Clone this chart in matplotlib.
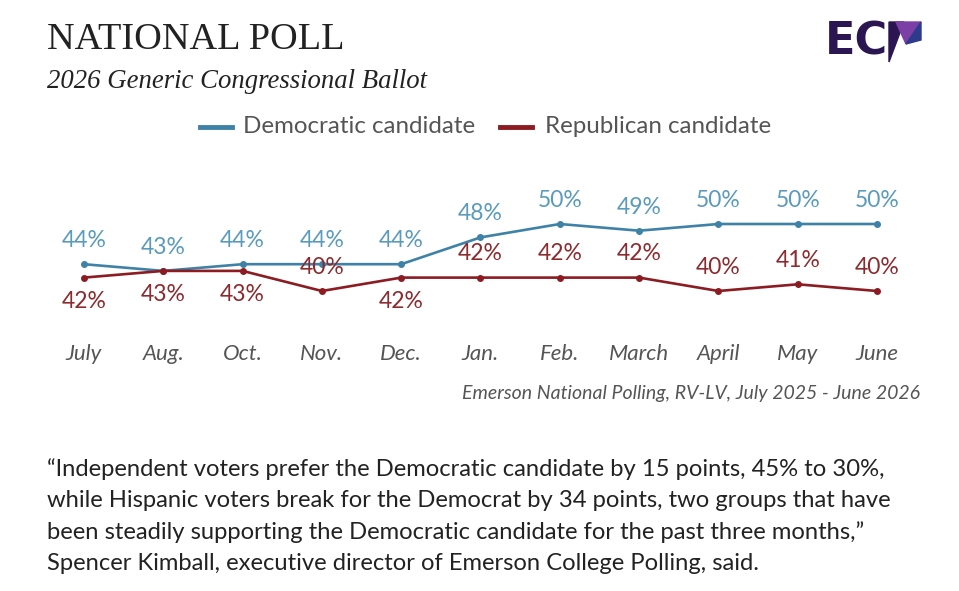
import matplotlib.pyplot as plt
from matplotlib.patches import Polygon

months = ['July', 'Aug.', 'Oct.', 'Nov.', 'Dec.', 'Jan.', 'Feb.', 'March', 'April', 'May', 'June']
dem = [44, 43, 44, 44, 44, 48, 50, 49, 50, 50, 50]
rep = [42, 43, 43, 40, 42, 42, 42, 42, 40, 41, 40]
rep_below = ['July', 'Aug.', 'Oct.', 'Dec.']

title = 'NATIONAL POLL'
subtitle = '2026 Generic Congressional Ballot'
source = 'Emerson National Polling, RV-LV, July 2025 - June 2026'
quote = ('\u201cIndependent voters prefer the Democratic candidate by 15 points, 45% to 30%,\n'
         'while Hispanic voters break for the Democrat by 34 points, two groups that have\n'
         'been steadily supporting the Democratic candidate for the past three months,\u201d\n'
         'Spencer Kimball, executive director of Emerson College Polling, said.')

dem_line = '#3f82a8'
dem_text = '#5a9bbd'
rep_line = '#8c1c22'
rep_text = '#8c2a2e'
grey = '#555555'

plt.rcParams['font.family'] = ['Lato', 'DejaVu Sans']

fig = plt.figure(figsize=(9.59, 5.91), dpi=100)
fig.patch.set_facecolor('white')

# plot area: x from -0.5 to 10.5, y from 36 to 54
ax = fig.add_axes([44.35 / 959, 1 - 317.8 / 591, (916.65 - 44.35) / 959, (317.8 - 197.2) / 591])
ax.set_xlim(-0.5, 10.5)
ax.set_ylim(36, 54)
x = list(range(len(months)))

ax.plot(x, dem, color=dem_line, lw=1.9, marker='o', ms=4, zorder=3)
ax.plot(x, rep, color=rep_line, lw=1.9, marker='o', ms=4, zorder=3)

for i, v in enumerate(dem):
    ax.annotate(f'{v}%', (i, v), xytext=(0, 17), textcoords='offset points',
                ha='center', va='center', fontsize=16.5, color=dem_text)
for i, v in enumerate(rep):
    off = 17 if months[i] not in rep_below else -17
    ax.annotate(f'{v}%', (i, v), xytext=(0, off), textcoords='offset points',
                ha='center', va='center', fontsize=16.5, color=rep_text)

ax.set_xticks(x)
ax.set_xticklabels(months, style='italic', fontsize=16, color=grey)
ax.tick_params(axis='x', length=0, pad=19)
ax.set_yticks([])
for s in ax.spines.values():
    s.set_visible(False)
ax.patch.set_alpha(0)

# legend
fig.add_artist(plt.Line2D([200 / 959, 232 / 959], [1 - 127 / 591] * 2, color=dem_line, lw=3.5))
fig.text(243 / 959, 1 - 127 / 591, 'Democratic candidate', fontsize=17.4, color=grey, va='center')
fig.add_artist(plt.Line2D([500 / 959, 532 / 959], [1 - 127 / 591] * 2, color=rep_line, lw=3.5))
fig.text(545 / 959, 1 - 127 / 591, 'Republican candidate', fontsize=17.4, color=grey, va='center')

# titles
fig.text(47 / 959, 1 - 40 / 591, title, family='Liberation Serif', fontsize=27.5, color='#222222', va='center')
fig.text(47 / 959, 1 - 82 / 591, subtitle, family='Liberation Serif', style='italic',
         fontsize=19.3, color='#222222', va='center')

# logo
fig.text(825 / 959, 1 - 42 / 591, 'EC', fontsize=32, fontweight='black', color='#2b1652',
         va='center', family='DejaVu Sans')
fig.add_artist(Polygon([(889 / 959, 1 - 22 / 591), (904 / 959, 1 - 22 / 591), (889 / 959, 1 - 62 / 591)],
                       closed=True, color='#2b1652', transform=fig.transFigure))
fig.add_artist(Polygon([(896 / 959, 1 - 22 / 591), (921 / 959, 1 - 22 / 591), (906 / 959, 1 - 44 / 591)],
                       closed=True, color='#7b3fa6', transform=fig.transFigure))
fig.add_artist(Polygon([(906 / 959, 1 - 44 / 591), (921 / 959, 1 - 22 / 591), (921 / 959, 1 - 40 / 591)],
                       closed=True, color='#2e3a8c', transform=fig.transFigure))

# source
fig.text(920 / 959, 1 - 394 / 591, source, style='italic', fontsize=14, color=grey, ha='right', va='center')

# quote
fig.text(47 / 959, 1 - 516 / 591, quote, fontsize=17.1, color='#222222', va='center', linespacing=1.58)

fig.savefig('out.png', dpi=100)
